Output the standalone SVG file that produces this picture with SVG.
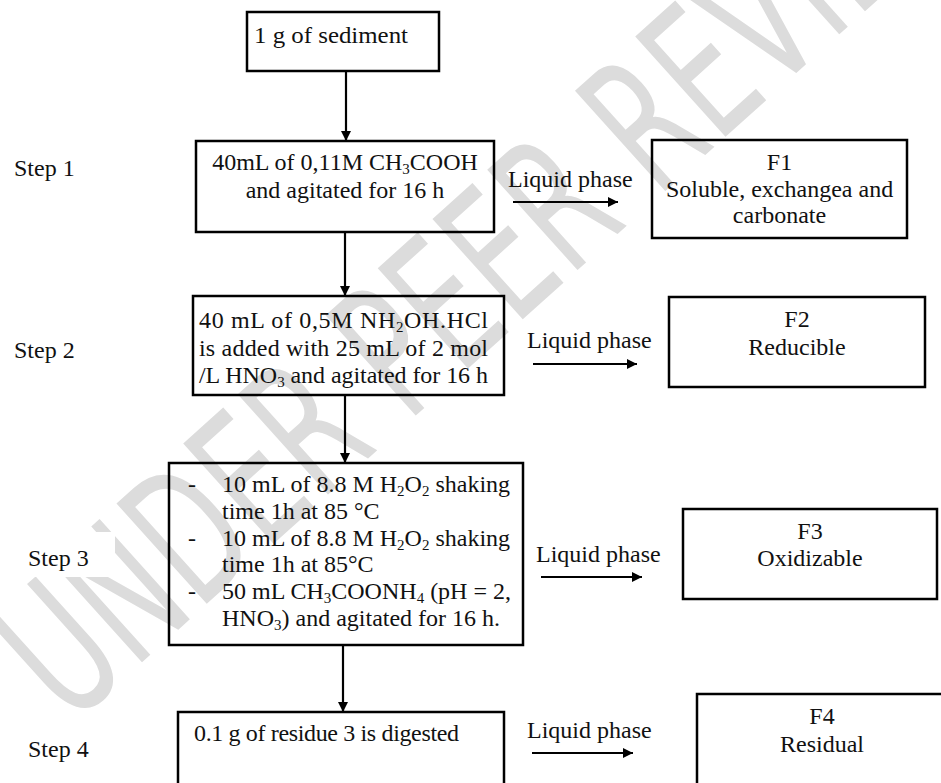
<svg xmlns="http://www.w3.org/2000/svg" width="941" height="783" viewBox="0 0 941 783">
<style>
.box{fill:none;stroke:#000;stroke-width:2.5}
.t{font-family:"Liberation Serif","Times New Roman",serif;font-size:24px;fill:#111}
.c{text-anchor:middle}
.sub{font-size:15px}
.lbl-bg{fill:#fff}
.wm{font-family:"DejaVu Sans","Liberation Sans",sans-serif;font-size:185px;fill:#dcdcdc}
.conn{stroke:#000;stroke-width:2.2;fill:none}
</style>
<defs>
<marker id="ah" viewBox="0 0 10 10" refX="10" refY="5" markerWidth="10" markerHeight="10" markerUnits="userSpaceOnUse" orient="auto">
<path d="M0,0 L10,5 L0,10 z" fill="#000"/>
</marker>
</defs>
<rect width="941" height="783" fill="#fff"/>
<g id="watermark">
<text class="wm" transform="translate(70,727) rotate(-42) scale(0.63,1)">UNDER PEER REVIEW</text>
</g>
<g id="step-labels">
<g id="label-step1"><text class="t" x="14" y="176">Step 1</text></g>
<g id="label-step2"><text class="t" x="14" y="358">Step 2</text></g>
<g id="label-step3"><rect class="lbl-bg" x="13" y="532" width="102" height="45"/><text class="t" x="28" y="566">Step 3</text></g>
<g id="label-step4"><rect class="lbl-bg" x="13" y="728" width="102" height="45"/><text class="t" x="28" y="757">Step 4</text></g>
</g>
<g id="connectors">
<line class="conn" x1="346" y1="71" x2="346" y2="141" marker-end="url(#ah)"/>
<line class="conn" x1="345" y1="232" x2="345" y2="296" marker-end="url(#ah)"/>
<line class="conn" x1="345" y1="395" x2="345" y2="463" marker-end="url(#ah)"/>
<line class="conn" x1="343" y1="645" x2="343" y2="712" marker-end="url(#ah)"/>
<line class="conn" x1="513" y1="202" x2="618" y2="202" marker-end="url(#ah)"/>
<line class="conn" x1="533" y1="364" x2="637" y2="364" marker-end="url(#ah)"/>
<line class="conn" x1="541" y1="577" x2="642" y2="577" marker-end="url(#ah)"/>
<line class="conn" x1="532" y1="753" x2="633" y2="753" marker-end="url(#ah)"/>
<text class="t" x="508" y="187">Liquid phase</text>
<text class="t" x="527" y="348">Liquid phase</text>
<text class="t" x="536" y="562">Liquid phase</text>
<text class="t" x="527" y="738">Liquid phase</text>
</g>
<g id="node-sediment">
<rect class="box" x="247" y="12" width="192" height="59"/>
<text class="t" x="254" y="43" textLength="154" lengthAdjust="spacingAndGlyphs">1 g of sediment</text>
</g>
<g id="node-step1">
<rect class="box" x="196" y="141" width="298" height="91"/>
<text class="t c" x="345" y="170">40mL of 0,11M CH<tspan class="sub" dy="4">3</tspan><tspan dy="-4">COOH</tspan></text>
<text class="t c" x="345" y="198">and agitated for 16 h</text>
</g>
<g id="node-f1">
<rect class="box" x="652" y="140" width="255" height="98"/>
<text class="t c" x="779.5" y="170">F1</text>
<text class="t c" x="779.5" y="197">Soluble, exchangea and</text>
<text class="t c" x="779.5" y="223">carbonate</text>
</g>
<g id="node-step2">
<rect class="box" x="193" y="296" width="311" height="99"/>
<text class="t" x="199" y="328" textLength="289" lengthAdjust="spacing">40 mL of 0,5M NH<tspan class="sub" dy="4">2</tspan><tspan dy="-4">OH.HCl</tspan></text>
<text class="t" x="199" y="356" textLength="289" lengthAdjust="spacing">is added with 25 mL of 2 mol</text>
<text class="t" x="199" y="383" textLength="289" lengthAdjust="spacing">/L HNO<tspan class="sub" dy="4">3</tspan><tspan dy="-4"> and agitated for 16 h</tspan></text>
</g>
<g id="node-f2">
<rect class="box" x="669" y="297" width="256" height="90"/>
<text class="t c" x="797" y="327">F2</text>
<text class="t c" x="797" y="355">Reducible</text>
</g>
<g id="node-step3">
<rect class="box" x="169" y="463" width="354" height="182"/>
<text class="t" x="188" y="492">-</text>
<text class="t" x="222" y="492">10 mL of 8.8 M H<tspan class="sub" dy="4">2</tspan><tspan dy="-4">O</tspan><tspan class="sub" dy="4">2</tspan><tspan dy="-4"> shaking</tspan></text>
<text class="t" x="222" y="519">time 1h at 85 °C</text>
<text class="t" x="188" y="546">-</text>
<text class="t" x="222" y="546">10 mL of 8.8 M H<tspan class="sub" dy="4">2</tspan><tspan dy="-4">O</tspan><tspan class="sub" dy="4">2</tspan><tspan dy="-4"> shaking</tspan></text>
<text class="t" x="222" y="572">time 1h at 85°C</text>
<text class="t" x="188" y="599">-</text>
<text class="t" x="222" y="599">50 mL CH<tspan class="sub" dy="4">3</tspan><tspan dy="-4">COONH</tspan><tspan class="sub" dy="4">4</tspan><tspan dy="-4"> (pH = 2,</tspan></text>
<text class="t" x="222" y="626">HNO<tspan class="sub" dy="4">3</tspan><tspan dy="-4">) and agitated for 16 h.</tspan></text>
</g>
<g id="node-f3">
<rect class="box" x="683" y="509" width="254" height="90"/>
<text class="t c" x="810" y="539">F3</text>
<text class="t c" x="810" y="566">Oxidizable</text>
</g>
<g id="node-step4">
<rect class="box" x="178" y="712" width="326" height="80"/>
<text class="t" x="194" y="741" textLength="265" lengthAdjust="spacing">0.1 g of residue 3 is digested</text>
</g>
<g id="node-f4">
<rect class="box" x="697" y="694" width="260" height="100"/>
<text class="t c" x="822" y="724">F4</text>
<text class="t c" x="822" y="752">Residual</text>
</g>
</svg>
